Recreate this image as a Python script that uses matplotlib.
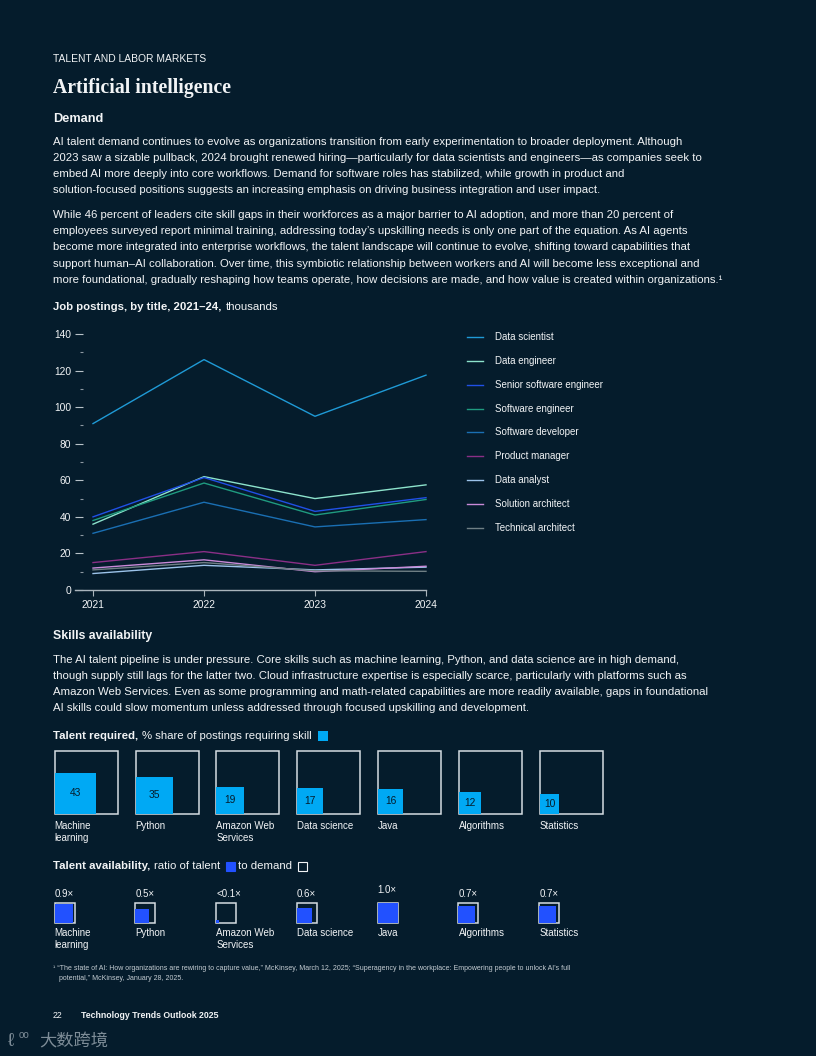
import numpy as np
import matplotlib.pyplot as plt
from matplotlib.patches import Rectangle
from matplotlib.lines import Line2D
from matplotlib.ticker import MultipleLocator

W, H = 816, 1056
bg = '#051c2c'
fg = '#f2f4f6'
plt.rcParams['font.family'] = ['Liberation Sans', 'DejaVu Sans']

# ------------------------------------------------------------------ data
years = [2021, 2022, 2023, 2024]
job_titles = ['Data scientist', 'Data engineer', 'Senior software engineer', 'Software engineer',
              'Software developer', 'Product manager', 'Data analyst', 'Solution architect',
              'Technical architect']
data_scientist = [91, 126, 95, 117.5]
data_engineer = [36, 62, 50, 57.5]
senior_sw_engineer = [40, 61.5, 43, 50.5]
sw_engineer = [38, 58.5, 41, 49.5]
sw_developer = [31, 48, 34.5, 38.5]
product_manager = [15, 21, 13.5, 21]
data_analyst = [9, 13.5, 11, 12.5]
solution_architect = [12, 16.5, 10, 13]
technical_architect = [11, 15, 10.5, 10.2]
line_colors = ['#1f9ad6', '#8de3cc', '#2050e6', '#1f9b80', '#1a6fb3',
               '#8a2f86', '#9cc3ea', '#c98ad8', '#6f7f85']

skills = ['Machine\nlearning', 'Python', 'Amazon Web\nServices', 'Data science', 'Java',
          'Algorithms', 'Statistics']
required_pct = [43, 35, 19, 17, 16, 12, 10]
availability = [0.9, 0.5, 0.02, 0.6, 1.0, 0.7, 0.7]
availability_lbl = ['0.9×', '0.5×', '<0.1×', '0.6×', '1.0×', '0.7×', '0.7×']

para1 = [
    "AI talent demand continues to evolve as organizations transition from early experimentation to broader deployment. Although",
    "2023 saw a sizable pullback, 2024 brought renewed hiring—particularly for data scientists and engineers—as companies seek to",
    "embed AI more deeply into core workflows. Demand for software roles has stabilized, while growth in product and",
    "solution-focused positions suggests an increasing emphasis on driving business integration and user impact.",
]
para2 = [
    "While 46 percent of leaders cite skill gaps in their workforces as a major barrier to AI adoption, and more than 20 percent of",
    "employees surveyed report minimal training, addressing today’s upskilling needs is only one part of the equation. As AI agents",
    "become more integrated into enterprise workflows, the talent landscape will continue to evolve, shifting toward capabilities that",
    "support human–AI collaboration. Over time, this symbiotic relationship between workers and AI will become less exceptional and",
    "more foundational, gradually reshaping how teams operate, how decisions are made, and how value is created within organizations.¹",
]
para3 = [
    "The AI talent pipeline is under pressure. Core skills such as machine learning, Python, and data science are in high demand,",
    "though supply still lags for the latter two. Cloud infrastructure expertise is especially scarce, particularly with platforms such as",
    "Amazon Web Services. Even as some programming and math-related capabilities are more readily available, gaps in foundational",
    "AI skills could slow momentum unless addressed through focused upskilling and development.",
]
footnote = [
    "¹ “The state of AI: How organizations are rewiring to capture value,” McKinsey, March 12, 2025; “Superagency in the workplace: Empowering people to unlock AI’s full",
    "   potential,” McKinsey, January 28, 2025.",
]


def fx(x):
    return x / W


def fy(y):
    return 1 - y / H


fig = plt.figure(figsize=(W / 100, H / 100), dpi=100, facecolor=bg)
rend = fig.canvas.get_renderer()


def txt(x, y, s, size=8.22, **kw):
    kw.setdefault('color', fg)
    kw.setdefault('va', 'center')
    return fig.text(fx(x), fy(y), s, fontsize=size, **kw)


def runs(x, y, parts, size=8.22):
    # parts: (text, weight) or ('box', fill colour) placed one after another
    for p, style in parts:
        if p == 'box':
            x += 1
            fig.add_artist(Rectangle((fx(x), fy(y + 4.5)), 9 / W, 9 / H, transform=fig.transFigure,
                                     fc=style if style != 'none' else bg,
                                     ec=fg if style == 'none' else style, lw=0.8))
            x += 9 + 4
        else:
            t = txt(x, y, p, size, fontweight=style)
            x += t.get_window_extent(rend).width + 4
    return x


# ------------------------------------------------------------------ header + text
txt(53, 59, 'TALENT AND LABOR MARKETS', 7.4)
txt(53, 88, 'Artificial intelligence', 14.2, family='Liberation Serif', fontweight='bold')
txt(53, 119, 'Demand', 9.2, fontweight='bold')
for i, line in enumerate(para1):
    txt(53, 142 + 16 * i, line)
for i, line in enumerate(para2):
    txt(53, 215 + 16.2 * i, line)
runs(53, 307, [('Job postings, by title, 2021–24,', 'bold'), ('thousands', 'normal')])

txt(53, 636, 'Skills availability', 8.8, fontweight='bold')
for i, line in enumerate(para3):
    txt(53, 660 + 16 * i, line)

x_end = runs(53, 736, [('Talent required,', 'bold'), ('% share of postings requiring skill', 'normal')])
fig.add_artist(Rectangle((fx(x_end + 2), fy(741)), 10 / W, 10 / H, transform=fig.transFigure,
                         fc='#00a9f4', ec='none'))
runs(53, 866, [('Talent availability,', 'bold'), ('ratio of talent', 'normal'), ('box', '#2251ff'),
               ('to demand', 'normal'), ('box', 'none')])

# ------------------------------------------------------------------ line chart
ax = fig.add_axes([fx(75), fy(590), 351 / W, 256 / H])
ax.set_facecolor(bg)
series = [data_scientist, data_engineer, senior_sw_engineer, sw_engineer, sw_developer,
          product_manager, data_analyst, solution_architect, technical_architect]
for vals, c in zip(series, line_colors):
    ax.plot(years, vals, color=c, lw=1.0, clip_on=False)
ax.set_xlim(2021 - 18 / 111, 2024)
ax.set_ylim(0, 140)
ax.set_xticks(years)
ax.set_xticklabels([str(y) for y in years])
ax.yaxis.set_major_locator(MultipleLocator(20))
ax.yaxis.set_minor_locator(MultipleLocator(10))
for s in ['top', 'right']:
    ax.spines[s].set_visible(False)
ax.spines['left'].set_position(('data', 2021 - 10 / 111))
ax.spines['left'].set_color('none')
ax.spines['bottom'].set_color('#a9b4bc')
ax.spines['bottom'].set_linewidth(1.0)
ax.tick_params(axis='y', which='major', direction='out', length=5.8, width=0.8, color='#b8c2c9',
               labelcolor=fg, labelsize=7.4, pad=2.5)
ax.tick_params(axis='y', which='minor', direction='out', length=2.5, width=0.8, color='#8d99a2')
ax.tick_params(axis='x', direction='out', length=4.3, width=0.8, color='#a9b4bc',
               labelcolor=fg, labelsize=7.4, pad=3)

# legend
for i, (name, c) in enumerate(zip(job_titles, line_colors)):
    yy = 337 + 23.85 * i
    fig.add_artist(Line2D([fx(467), fx(483)], [fy(yy), fy(yy)], transform=fig.transFigure,
                          color=c, lw=1.0))
    txt(495, yy, name, 7.0)

# ------------------------------------------------------------------ talent required squares
step = 80.8 / 63
ax2 = fig.add_axes([fx(54.7), fy(814), (6 * 80.8 + 63) / W, 63 / H])
ax2.set_xlim(0, 6 * step + 1)
ax2.set_ylim(0, 1)
ax2.axis('off')
for i, (name, p) in enumerate(zip(skills, required_pct)):
    x0 = i * step
    ax2.add_patch(Rectangle((x0, 0), 1, 1, fill=False, ec='#d5dde2', lw=1.1, clip_on=False))
    s = np.sqrt(p / 100)
    ax2.add_patch(Rectangle((x0, 0), s, s, fc='#00a9f4', ec='none', zorder=3, clip_on=False))
    ax2.text(x0 + s / 2, s / 2, str(p), fontsize=7.4, color=bg, ha='center', va='center', zorder=4)
    ax2.text(x0, -0.11, name, fontsize=7, color=fg, ha='left', va='top', linespacing=1.2)

# ------------------------------------------------------------------ talent availability squares
step3 = 80.8 / 20
ax3 = fig.add_axes([fx(54.5), fy(923), (6 * 80.8 + 20) / W, 20 / H])
ax3.set_xlim(0, 6 * step3 + 1)
ax3.set_ylim(0, 1)
ax3.axis('off')
for i, (name, r, lbl) in enumerate(zip(skills, availability, availability_lbl)):
    x0 = i * step3
    ax3.add_patch(Rectangle((x0, 0), 1, 1, fill=False, ec='#d5dde2', lw=1.1, clip_on=False))
    s = np.sqrt(r)
    ax3.add_patch(Rectangle((x0, 0), s, s, fc='#2251ff', ec='none', zorder=3, clip_on=False))
    ly = 1.65 if lbl == '1.0×' else 1.45
    ax3.text(x0, ly, lbl, fontsize=7, color=fg, ha='left', va='center')
    ax3.text(x0, -0.25, name, fontsize=7, color=fg, ha='left', va='top', linespacing=1.2)

# ------------------------------------------------------------------ footnote + footer
txt(53, 968, footnote[0], 5.05, color='#c4ccd2')
txt(53, 978, footnote[1], 5.05, color='#c4ccd2')
txt(53, 1016, '22', 6.3)
txt(81, 1016, 'Technology Trends Outlook 2025', 6.3, fontweight='bold')

# watermark
txt(8, 1041, 'ℓ', 14, color='#7d8c97')
txt(19, 1035, 'oo', 7, color='#7d8c97')
txt(39, 1041, '大数跨境', 12.4, color='#7d8c97', family=['Noto Sans CJK SC', 'DejaVu Sans'])

fig.savefig('out.png', dpi=100, facecolor=bg)
